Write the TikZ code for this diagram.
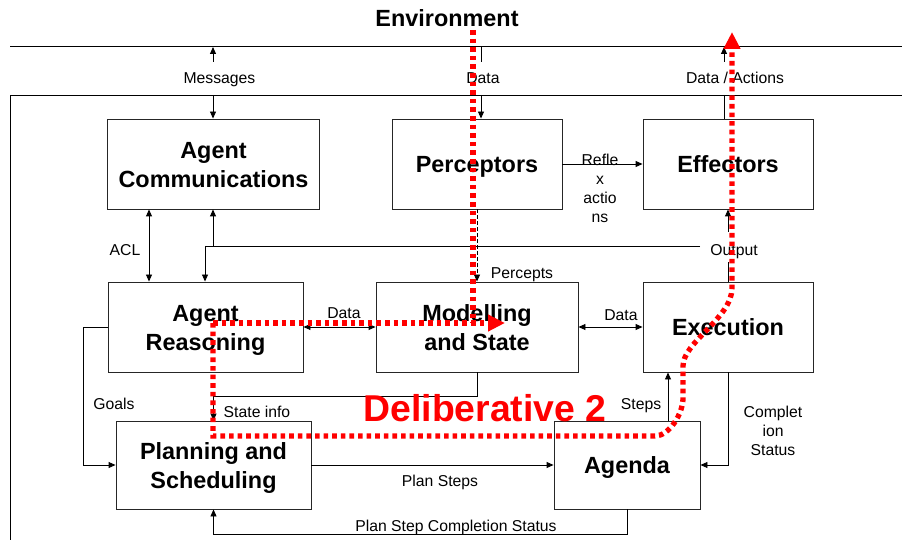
\documentclass[tikz,border=0pt]{standalone}
\usepackage{fontspec}
\setmainfont{Liberation Sans}
\usetikzlibrary{arrows.meta}
\newcommand\tstrut{\rule{0pt}{23bp}}
\newcommand\bstrut{\rule[-5bp]{0pt}{5bp}}
\begin{document}
\begin{tikzpicture}[x=1bp,y=-1bp,
  box/.style={draw=black!85, line width=0.9bp, align=center, font=\fontsize{23.5}{29}\selectfont\bfseries, inner sep=0pt},
  boxone/.style={box, text height=16.8bp, text depth=0pt},
  lbl/.style={font=\fontsize{15.8}{19.5}\selectfont, inner sep=0pt, text height=11.3pt, text depth=0pt},
  mlbl/.style={font=\fontsize{15.8}{19.2}\selectfont, inner sep=0pt, align=center},
  wire/.style={line width=0.9bp, black},
  arr/.style={wire, -{Triangle[length=7bp,width=6bp]}},
  both/.style={wire, {Triangle[length=7bp,width=6bp]}-{Triangle[length=7bp,width=6bp]}},
  redpath/.style={draw=red, line width=5.3bp, dash pattern=on 4.6bp off 4bp},
  redtip/.style={-{Triangle[length=17bp,width=16bp]}},
]
\useasboundingbox (0,0) rectangle (902,540);

% environment frame
\node[font=\fontsize{23.5}{28}\selectfont\bfseries, inner sep=0pt, text height=17pt, text depth=0pt] (env) at (447,18) {Environment};
\coordinate (f1) at (10,46); \coordinate (f2) at (902,46);
\coordinate (f3) at (10,95); \coordinate (f4) at (902,95); \coordinate (f5) at (10,540);
\draw[wire] (f1) -- (f2);
\draw[wire] (f4) -- (f3) -- (f5);

% boxes
\node[box, minimum width=212bp, minimum height=90bp] (comm) at (213.5,164) {\tstrut Agent\\Communications\bstrut};
\node[boxone, minimum width=170bp, minimum height=90bp] (perc) at (477,164) {Perceptors};
\node[boxone, minimum width=170bp, minimum height=90bp] (eff) at (728,164) {Effectors};
\node[box, minimum width=195bp, minimum height=90bp] (reas) at (205.5,327) {\tstrut Agent\\Reasoning\bstrut};
\node[box, minimum width=202bp, minimum height=90bp] (mod) at (477,327) {\tstrut Modelling\\and State\bstrut};
\node[boxone, minimum width=170bp, minimum height=90bp] (exec) at (728,327) {Execution};
\node[box, minimum width=195bp, minimum height=88bp] (plan) at (213.5,465) {\tstrut Planning and\\Scheduling\bstrut};
\node[boxone, minimum width=146bp, minimum height=88bp] (agenda) at (627,465) {Agenda};

% labels
\node[lbl] (lmsg) at (219.5,78) {Messages};
\node[lbl] (ldata) at (483,78) {Data};
\node[lbl] (lda) at (735,78) {Data / Actions};
\node[mlbl] (lrefl) at (600,188.5) {Refle\\x\\actio\\ns};
\node[lbl] (lacl) at (125,250) {ACL};
\node[lbl] (lout) at (734,250) {Output};
\node[lbl] (lperc) at (522,273) {Percepts};
\node[lbl] (ld1) at (344,313) {Data};
\node[lbl] (ld2) at (621,315) {Data};
\node[lbl] (lgoals) at (114,404) {Goals};
\node[lbl] (lstate) at (257,412) {State info};
\node[lbl] (lsteps) at (641,404) {Steps};
\node[mlbl] (lcomp) at (773,431) {Complet\\ion\\Status};
\node[lbl] (lps) at (440,481) {Plan Steps};
\node[lbl] (lpsc) at (456,526) {Plan Step Completion Status};

% messages
\coordinate (m0) at (213,47); \coordinate (m1) at (213,62); \coordinate (m2) at (213,95);
\draw[arr] (m1) -- (m0);
\draw[arr] (m2) -- (m2 |- comm.north);
% data from environment
\coordinate (d0) at (481,47); \coordinate (d1) at (481,62); \coordinate (d2) at (481,95);
\draw[wire] (d0) -- (d1);
\draw[arr] (d2) -- (d2 |- perc.north);
% data / actions
\coordinate (a0) at (724,47); \coordinate (a1) at (724,62); \coordinate (a2) at (724,95);
\draw[arr] (a1) -- (a0);
\draw[wire] (a2) -- (a2 |- eff.north);
% reflex actions
\draw[arr] (perc.east) -- (eff.west);
% percepts
\draw[arr, dash pattern=on 4bp off 2bp] (perc.south) -- (mod.north);
% ACL
\coordinate (aclx) at (149,0);
\draw[both] (comm.south -| aclx) -- (reas.north -| aclx);
% output
\coordinate (o1) at (205,246); \coordinate (o2) at (213,246); \coordinate (o3) at (700,246);
\coordinate (oe1) at (728,262); \coordinate (oe2) at (728,232);
\draw[wire] (o3) -- (o1);
\draw[arr] (o1) -- (o1 |- reas.north);
\draw[arr] (o2) -- (o2 |- comm.south);
\draw[wire] (exec.north) -- (oe1);
\draw[arr] (oe2) -- (eff.south);
% data links
\draw[both] (reas.east) -- (mod.west);
\draw[both] (mod.east) -- (exec.west);
% goals
\coordinate (g1) at (83,327); \coordinate (g2) at (83,465);
\draw[arr] (reas.west) -- (g1) -- (g2) -- (plan.west);
% state info
\coordinate (s1) at (477,396); \coordinate (s2) at (213.5,396);
\draw[arr] (mod.south) -- (s1) -- (s2) -- (plan.north);
% plan steps
\draw[arr] (plan.east) -- (agenda.west);
% steps
\coordinate (stx) at (668,0);
\draw[arr] (agenda.north -| stx) -- (exec.south -| stx);
% completion status
\coordinate (c1) at (728,465);
\draw[arr] (exec.south) -- (c1) -- (agenda.east);
% plan step completion status
\coordinate (p1) at (627,534); \coordinate (p2) at (213.5,534);
\draw[arr] (agenda.south) -- (p1) -- (p2) -- (plan.south);

% deliberative path
\node[font=\fontsize{37.5}{40}\selectfont\bfseries, text=red, inner sep=0pt, text height=27pt, text depth=0pt] (delib) at (485,408.5) {Deliberative 2};
\coordinate (r0) at (473,30); \coordinate (r1) at (473,323);
\coordinate (r2) at (213,323); \coordinate (r3) at (505,323);
\coordinate (r4) at (213,436); \coordinate (r5) at (655,436);
\coordinate (r6) at (683,398); \coordinate (r7) at (683,366);
\coordinate (r8) at (732,288); \coordinate (r9) at (732,32);
\draw[redpath] (r0) -- (r1);
\draw[redpath, redtip] (r2) -- (r3);
\draw[redpath, redtip] (r2) -- (r4) -- (r5) .. controls (669,436) and (683,414) .. (r6) -- (r7) .. controls (683,342) and (732,318) .. (r8) -- (r9);
\end{tikzpicture}
\end{document}
